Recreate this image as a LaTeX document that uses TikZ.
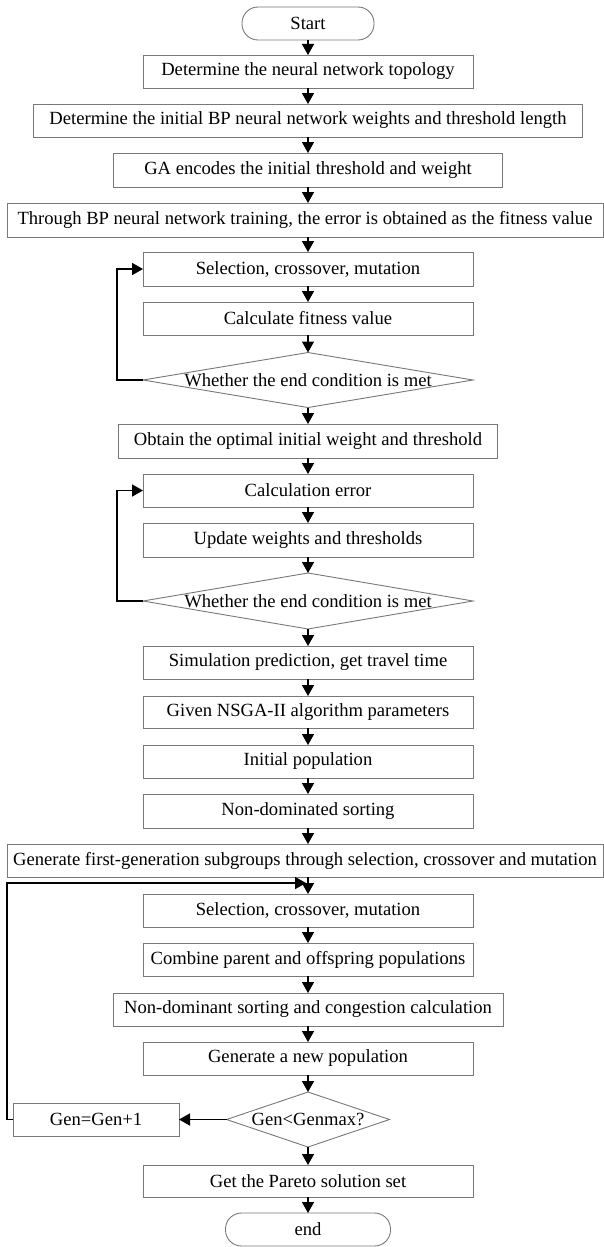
\documentclass[tikz,border=0pt]{standalone}
\usepackage{fontspec}
\setmainfont{Liberation Serif}
\usetikzlibrary{shapes.geometric,arrows.meta}
\definecolor{boxgray}{RGB}{120,120,120}
\begin{document}
\begin{tikzpicture}[x=1pt,y=-1pt,
  font=\fontsize{18.6}{22}\selectfont,
  box/.style={draw=boxgray, line width=0.9pt, rectangle, minimum height=33pt, minimum width=330pt, inner sep=0pt, outer sep=0pt},
  term/.style={box, rounded corners=16pt},
  dec/.style={draw=boxgray, line width=0.9pt, diamond, inner sep=0pt, outer sep=0pt},
  arr/.style={-{Triangle[width=12pt,length=11pt]}, line width=1.4pt, black},
  back/.style={-{Triangle[width=12pt,length=11pt]}, line width=1.8pt, black}
]
\useasboundingbox (0,0) rectangle (604,1247);

\node[term, minimum width=132pt] (start) at (308,23.5) {Start};
\node[box] (b1) at (308,71.5) {Determine the neural network topology};
\node[box, minimum width=549pt] (b2) at (308,120.5) {Determine the initial BP neural network weights and threshold length};
\node[box, minimum width=389pt, minimum height=34pt] (b3) at (308,170) {GA encodes the initial threshold and weight};
\node[box, minimum width=596pt, minimum height=34pt] (b4) at (305,220) {Through BP neural network training, the error is obtained as the fitness value};
\node[box, minimum height=34pt] (b5) at (308,269) {Selection, crossover, mutation};
\node[box] (b6) at (308,318.5) {Calculate fitness value};
\node[dec, minimum width=330pt, minimum height=55pt, label={center:Whether the end condition is met}] (d1) at (308,380) {};
\node[box, minimum width=379pt, minimum height=34pt] (b7) at (308,441) {Obtain the optimal initial weight and threshold};
\node[box] (b8) at (308,490.5) {Calculation error};
\node[box, minimum height=34pt] (b9) at (308,540) {Update weights and thresholds};
\node[dec, minimum width=330pt, minimum height=56pt, label={center:Whether the end condition is met}] (d2) at (308,601) {};
\node[box] (b10) at (308,662.5) {Simulation prediction, get travel time};
\node[box, minimum height=32pt] (b11) at (308,712) {Given NSGA-II algorithm parameters};
\node[box] (b12) at (308,761.5) {Initial population};
\node[box, minimum height=34pt] (b13) at (308,811) {Non-dominated sorting};
\node[box, minimum width=596pt] (b14) at (305,860.5) {Generate first-generation subgroups through selection, crossover and mutation};
\node[box] (b15) at (308,910.5) {Selection, crossover, mutation};
\node[box] (b16) at (308,959.5) {Combine parent and offspring populations};
\node[box, minimum width=390pt] (b17) at (308,1009.5) {Non-dominant sorting and congestion calculation};
\node[box] (b18) at (308,1058.5) {Generate a new population};
\node[dec, minimum width=163pt, minimum height=55pt, label={center:Gen<Genmax?}] (d3) at (308,1119.5) {};
\node[box, minimum width=166pt] (g) at (96,1119.5) {Gen=Gen+1};
\node[box, minimum height=32pt] (b19) at (308,1181) {Get the Pareto solution set};
\node[term, minimum width=165pt, minimum height=33pt] (end) at (308,1229.5) {end};

% main flow
\draw[arr] (start.south) -- (b1.north);
\draw[arr] (b1.south) -- (b2.north);
\draw[arr] (b2.south) -- (b3.north);
\draw[arr] (b3.south) -- (b3.south |- b4.north);
\draw[arr] (b5.north |- b4.south) -- (b5.north);
\draw[arr] (b5.south) -- (b6.north);
\draw[arr] (b6.south) -- (d1.north);
\draw[arr] (d1.south) -- (b7.north);
\draw[arr] (b7.south) -- (b8.north);
\draw[arr] (b8.south) -- (b9.north);
\draw[arr] (b9.south) -- (d2.north);
\draw[arr] (d2.south) -- (b10.north);
\draw[arr] (b10.south) -- (b11.north);
\draw[arr] (b11.south) -- (b12.north);
\draw[arr] (b12.south) -- (b13.north);
\draw[arr] (b13.south) -- (b13.south |- b14.north);
\draw[arr] (b15.north |- b14.south) -- (b15.north);
\draw[arr] (b15.south) -- (b16.north);
\draw[arr] (b16.south) -- (b17.north);
\draw[arr] (b17.south) -- (b18.north);
\draw[arr] (b18.south) -- (d3.north);
\draw[arr] (d3.south) -- (b19.north);
\draw[arr] (b19.south) -- (end.north);

% loops
\draw[back] (d1.west) -- ++(-26,0) |- (b5.west);
\draw[back] (d2.west) -- ++(-26,0) |- (b8.west);
\draw[arr, line width=1.8pt] (d3.west) -- (g.east);
\coordinate (lp) at (306,883);
\draw[back] (g.west) -| (7,883) -- (lp);
\end{tikzpicture}
\end{document}
